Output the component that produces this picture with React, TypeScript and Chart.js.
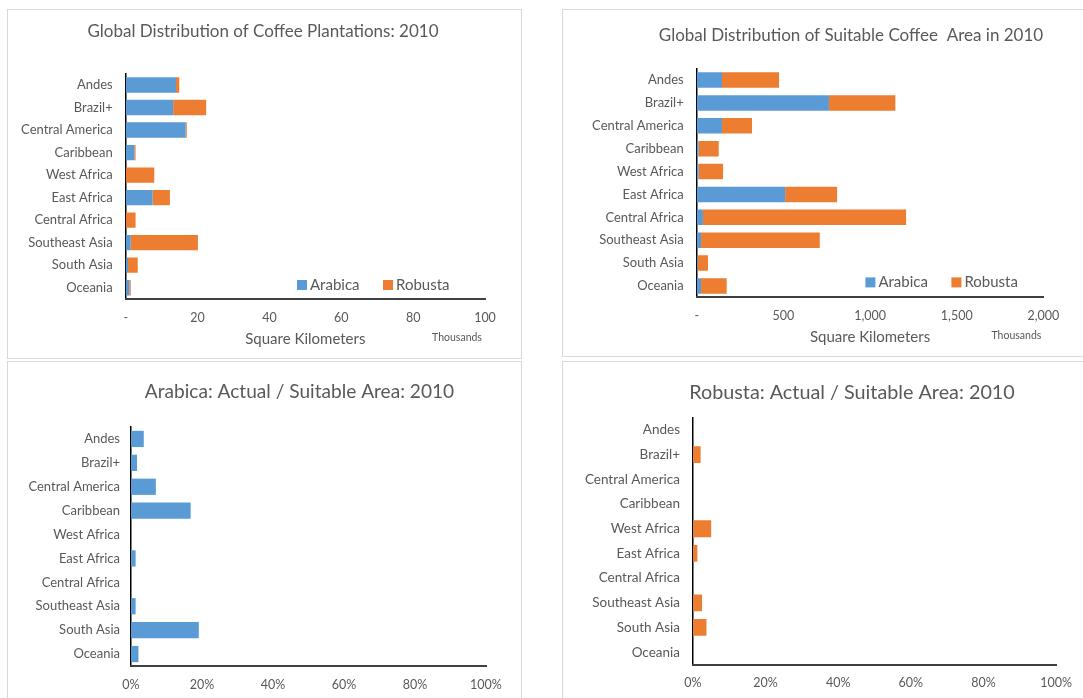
import React, { useEffect, useRef } from "react";
import { Chart, registerables } from "chart.js";

Chart.register(...registerables);

// ---------- data ----------
const regions = [
  "Andes",
  "Brazil+",
  "Central America",
  "Caribbean",
  "West Africa",
  "East Africa",
  "Central Africa",
  "Southeast Asia",
  "South Asia",
  "Oceania",
];
const seriesNames = ["Arabica", "Robusta"];

// Planted area, thousands of km²
const plantedArabica = [14.0, 13.2, 16.7, 2.4, 0.05, 7.5, 0.05, 1.4, 0.65, 1.0];
const plantedRobusta = [0.9, 9.2, 0.3, 0.35, 7.9, 4.8, 2.7, 18.7, 2.7, 0.4];

// Suitable area, thousands of km²
const suitableArabica = [146, 763, 146, 11, 11, 510, 36, 25, 5, 25];
const suitableRobusta = [329, 383, 173, 116, 141, 300, 1172, 685, 60, 148];

// Actual / suitable, percent
const arabicaRatio = [3.6, 1.7, 7.0, 16.8, 0, 1.3, 0, 1.3, 19.1, 2.1];
const robustaRatio = [0, 2.1, 0, 0, 5.0, 1.2, 0, 2.5, 3.7, 0];

// Axis tick settings
const plantedTicks = { max: 100, step: 20 };
const suitableTicks = { max: 2000, step: 500 };
const percentTicks = { max: 100, step: 20 };

const titles = [
  "Global Distribution of Coffee Plantations: 2010",
  "Global Distribution of Suitable Coffee  Area in 2010",
  "Arabica: Actual / Suitable Area: 2010",
  "Robusta: Actual / Suitable Area: 2010",
];
const axisTitle = "Square Kilometers";
const unitLabel = "Thousands";

// ---------- style ----------
const FONT = "Lato, 'Open Sans', sans-serif";
const TEXT = "#595959";
const BLUE = "#5B9BD5";
const ORANGE = "#ED7D31";

const fmtThousands = (v: number) =>
  v === 0 ? "-" : v.toLocaleString("en-US");
const fmtPercent = (v: number) => `${v}%`;

type Layout = {
  left: number;
  top: number;
  width: number;
  height: number;
  frame: { x: number; y: number; w: number; h: number };
  yWidth: number;
  xHeight: number;
  padRight: number;
  padTop: number;
  title: { cx: number; cy: number; size: number };
  labelSize: number;
  labelPad: number;
  tickPad: number;
  legend?: { a: number; r: number; dy: number };
  unit?: { dx: number; dy: number };
};

function makeExtras(lay: Layout, title: string) {
  return {
    id: "panelExtras",
    afterDraw(chart: any) {
      const { ctx, chartArea } = chart;
      ctx.save();
      // title
      ctx.font = `${lay.title.size}px ${FONT}`;
      ctx.textAlign = "center";
      ctx.textBaseline = "middle";
      ctx.fillStyle = TEXT;
      ctx.fillText(title, lay.title.cx, lay.title.cy);
      if (lay.legend) {
        ctx.font = `15px ${FONT}`;
        ctx.textBaseline = "middle";
        ctx.textAlign = "left";
        const offs = [lay.legend.a, lay.legend.r];
        chart.data.datasets.forEach((ds: any, i: number) => {
          const x = chartArea.right + offs[i];
          const y = chartArea.bottom + lay.legend!.dy;
          ctx.fillStyle = ds.backgroundColor;
          ctx.fillRect(x, y - 5, 10, 10);
          ctx.fillStyle = TEXT;
          ctx.fillText(ds.label, x + 13, y);
        });
      }
      if (lay.unit) {
        ctx.font = `10.5px ${FONT}`;
        ctx.textAlign = "center";
        ctx.textBaseline = "middle";
        ctx.fillStyle = TEXT;
        ctx.fillText(
          unitLabel,
          chartArea.right + lay.unit.dx,
          chartArea.bottom + lay.unit.dy
        );
      }
      ctx.restore();
    },
  };
}

function buildConfig(
  lay: Layout,
  title: string,
  datasets: any[],
  ticks: { max: number; step: number },
  fmt: (v: number) => string,
  stacked: boolean,
  showAxisTitle: boolean
) {
  return {
    type: "bar",
    data: { labels: regions, datasets },
    plugins: [makeExtras(lay, title)],
    options: {
      indexAxis: "y",
      responsive: false,
      animation: false,
      devicePixelRatio: 1,
      layout: {
        padding: { right: lay.padRight, left: 0, top: lay.padTop, bottom: 0 },
      },
      datasets: {
        bar: { categoryPercentage: 1, barPercentage: 0.68 },
      },
      plugins: {
        legend: { display: false },
        tooltip: { enabled: false },
        title: { display: false },
      },
      scales: {
        y: {
          stacked,
          grid: { display: false, drawTicks: false },
          border: { display: true, color: "#000000", width: 1.5 },
          ticks: {
            color: TEXT,
            font: { family: FONT, size: lay.labelSize },
            padding: lay.labelPad,
            autoSkip: false,
          },
          afterFit: (s: any) => {
            s.width = lay.yWidth;
          },
        },
        x: {
          stacked,
          min: 0,
          max: ticks.max,
          grid: { display: false, drawTicks: false },
          border: { display: true, color: "#404040", width: 2 },
          ticks: {
            stepSize: ticks.step,
            color: TEXT,
            font: { family: FONT, size: 12.5 },
            padding: lay.tickPad,
            maxRotation: 0,
            callback: (v: any) => fmt(Number(v)),
          },
          title: {
            display: showAxisTitle,
            text: axisTitle,
            color: TEXT,
            font: { family: FONT, size: 15, lineHeight: 1.2 },
            padding: { top: 0, bottom: 10 },
          },
          afterFit: (s: any) => {
            s.height = lay.xHeight;
          },
        },
      },
    },
  };
}

function Panel({ lay, config }: { lay: Layout; config: any }) {
  const ref = useRef<HTMLCanvasElement | null>(null);
  useEffect(() => {
    if (!ref.current) return;
    const chart = new Chart(ref.current, config);
    return () => chart.destroy();
  }, []);
  return (
    <>
      <div
        style={{
          position: "absolute",
          left: lay.frame.x,
          top: lay.frame.y,
          width: lay.frame.w,
          height: lay.frame.h,
          boxSizing: "border-box",
          border: "1.5px solid #d9d9d9",
        }}
      />
      <canvas
        ref={ref}
        width={lay.width}
        height={lay.height}
        style={{
          position: "absolute",
          left: lay.left,
          top: lay.top,
          width: lay.width,
          height: lay.height,
          display: "block",
        }}
      />
    </>
  );
}

const lay1: Layout = {
  left: 7, top: 9, width: 522, height: 349,
  frame: { x: 7, y: 9, w: 515, h: 350 },
  yWidth: 118.7, xHeight: 59, padRight: 44, padTop: 64.7,
  title: { cx: 256, cy: 23, size: 17 },
  labelSize: 13, labelPad: 13, tickPad: 11,
  legend: { a: -188, r: -102, dy: -14 },
  unit: { dx: -28, dy: 39 },
};
const lay2: Layout = {
  left: 562, top: 9, width: 521, height: 347,
  frame: { x: 562, y: 9, w: 540, h: 348 },
  yWidth: 134.7, xHeight: 58.6, padRight: 39.6, padTop: 59.6,
  title: { cx: 289, cy: 27, size: 17 },
  labelSize: 13, labelPad: 13, tickPad: 11,
  legend: { a: -178, r: -92, dy: -15 },
  unit: { dx: -27, dy: 38 },
};
const lay3: Layout = {
  left: 7, top: 361, width: 522, height: 337,
  frame: { x: 7, y: 361, w: 515, h: 360 },
  yWidth: 124, xHeight: 32, padRight: 43, padTop: 66,
  title: { cx: 292.5, cy: 30.5, size: 19.1 },
  labelSize: 13, labelPad: 11, tickPad: 11,
};
const lay4: Layout = {
  left: 562, top: 361, width: 521, height: 337,
  frame: { x: 562, y: 361, w: 540, h: 360 },
  yWidth: 131, xHeight: 33.5, padRight: 24, padTop: 56.7,
  title: { cx: 290, cy: 32, size: 19.8 },
  labelSize: 13.5, labelPad: 13, tickPad: 11,
};

export default function App() {
  const c1 = buildConfig(
    lay1,
    titles[0],
    [
      { label: seriesNames[0], data: plantedArabica, backgroundColor: BLUE },
      { label: seriesNames[1], data: plantedRobusta, backgroundColor: ORANGE },
    ],
    plantedTicks,
    fmtThousands,
    true,
    true
  );
  const c2 = buildConfig(
    lay2,
    titles[1],
    [
      { label: seriesNames[0], data: suitableArabica, backgroundColor: BLUE },
      { label: seriesNames[1], data: suitableRobusta, backgroundColor: ORANGE },
    ],
    suitableTicks,
    fmtThousands,
    true,
    true
  );
  const c3 = buildConfig(
    lay3,
    titles[2],
    [{ label: seriesNames[0], data: arabicaRatio, backgroundColor: BLUE }],
    percentTicks,
    fmtPercent,
    false,
    false
  );
  const c4 = buildConfig(
    lay4,
    titles[3],
    [{ label: seriesNames[1], data: robustaRatio, backgroundColor: ORANGE }],
    percentTicks,
    fmtPercent,
    false,
    false
  );
  return (
    <div
      style={{
        position: "absolute",
        left: 0,
        top: 0,
        width: 1083,
        height: 698,
        overflow: "hidden",
        background: "#ffffff",
      }}
    >
      <Panel lay={lay1} config={c1} />
      <Panel lay={lay2} config={c2} />
      <Panel lay={lay3} config={c3} />
      <Panel lay={lay4} config={c4} />
    </div>
  );
}
